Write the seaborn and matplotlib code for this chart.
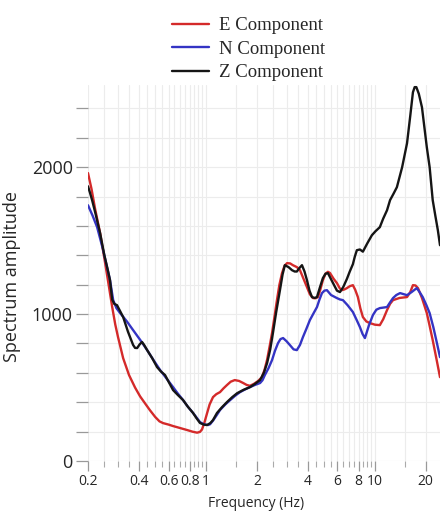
import numpy as np
import pandas as pd
import matplotlib
matplotlib.use("Agg")
import matplotlib.pyplot as plt
from matplotlib.ticker import FixedLocator, FixedFormatter, NullFormatter
import seaborn as sns

# Spectrum amplitudes of the three components against frequency (Hz)
e_freq = [0.200, 0.21, 0.22, 0.236, 0.25, 0.265, 0.278, 0.29, 0.301, 0.323,
          0.35, 0.38, 0.407, 0.44, 0.466, 0.5, 0.53, 0.557, 0.6, 0.638,
          0.7, 0.772, 0.83, 0.885, 0.92, 0.947, 0.98, 1.014, 1.05, 1.10,
          1.15, 1.21, 1.27, 1.33, 1.40, 1.48, 1.57, 1.66, 1.74, 1.82,
          1.92, 2.03, 2.14, 2.22, 2.30, 2.38, 2.46, 2.55, 2.63, 2.72,
          2.82, 2.92, 3.02, 3.15, 3.27, 3.45, 3.60, 3.78, 3.96, 4.12,
          4.30, 4.45, 4.60, 4.76, 4.92, 5.1, 5.27, 5.42, 5.7, 5.96,
          6.2, 6.38, 6.6, 6.83, 7.1, 7.41, 7.65, 7.93, 8.2, 8.49,
          8.9, 9.34, 10.0, 10.7, 11.2, 11.8, 12.3, 12.8, 14.0, 15.5,
          16.2, 16.8, 17.4, 18.0, 19.0, 20.3, 21.1, 22.0, 23.2, 24.3]
e_amp = [1960, 1850, 1720, 1550, 1380, 1200, 1050, 930, 845, 700,
         585, 500, 440, 385, 345, 300, 270, 258, 248, 238,
         225, 211, 200, 193, 198, 215, 265, 325, 385, 435,
         455, 469, 495, 517, 540, 551, 545, 531, 518, 512,
         525, 544, 570, 620, 690, 780, 871, 990, 1095, 1200,
         1280, 1330, 1347, 1345, 1333, 1320, 1299, 1240, 1184, 1135,
         1109, 1108, 1116, 1170, 1231, 1275, 1288, 1280, 1240, 1211,
         1175, 1163, 1168, 1177, 1190, 1197, 1165, 1116, 1040, 980,
         950, 939, 928, 925, 965, 1027, 1070, 1095, 1110, 1116,
         1150, 1197, 1195, 1177, 1110, 1007, 920, 823, 690, 571]

n_freq = [0.200, 0.213, 0.2265, 0.246, 0.258, 0.270, 0.282, 0.295, 0.310, 0.34,
          0.370, 0.41, 0.448, 0.49, 0.535, 0.585, 0.638, 0.68, 0.731, 0.78,
          0.838, 0.88, 0.921, 0.97, 1.028, 1.056, 1.10, 1.161, 1.21, 1.30,
          1.39, 1.49, 1.59, 1.70, 1.82, 1.95, 2.09, 2.16, 2.23, 2.34,
          2.46, 2.56, 2.67, 2.76, 2.86, 3.0, 3.14, 3.3, 3.45, 3.6,
          3.75, 3.93, 4.12, 4.33, 4.54, 4.70, 4.86, 5.03, 5.20, 5.5,
          5.96, 6.2, 6.47, 6.9, 7.41, 7.8, 8.15, 8.45, 8.73, 9.2,
          9.73, 10.2, 10.7, 11.8, 12.3, 12.8, 13.4, 14.1, 15.5, 16.5,
          17.7, 18.4, 19.2, 20.2, 21.1, 22.2, 23.3, 24.3]
n_amp = [1741, 1670, 1592, 1435, 1330, 1231, 1095, 1040, 1007, 950,
         891, 820, 755, 685, 619, 560, 503, 460, 415, 370,
         327, 295, 265, 250, 245, 250, 275, 315, 347, 385,
         415, 445, 469, 487, 503, 518, 531, 550, 585, 630,
         687, 750, 803, 830, 837, 815, 789, 760, 755, 790,
         844, 900, 959, 1005, 1048, 1100, 1143, 1160, 1163, 1130,
         1109, 1100, 1095, 1060, 1014, 960, 912, 865, 837, 920,
         993, 1030, 1041, 1048, 1080, 1109, 1130, 1143, 1129, 1150,
         1177, 1150, 1116, 1060, 1007, 910, 803, 707]

z_freq = [0.200, 0.205, 0.2115, 0.222, 0.236, 0.25, 0.262, 0.270, 0.278, 0.286,
          0.297, 0.31, 0.323, 0.345, 0.370, 0.38, 0.391, 0.405, 0.418, 0.43,
          0.448, 0.48, 0.513, 0.54, 0.572, 0.60, 0.638, 0.68, 0.731, 0.78,
          0.838, 0.88, 0.921, 0.97, 1.014, 1.06, 1.10, 1.161, 1.24, 1.33,
          1.43, 1.53, 1.67, 1.82, 1.95, 2.09, 2.2, 2.30, 2.40, 2.49,
          2.6, 2.74, 2.84, 2.93, 3.08, 3.23, 3.35, 3.45, 3.58, 3.70,
          3.83, 3.96, 4.1, 4.24, 4.4, 4.54, 4.72, 4.92, 5.1, 5.27,
          5.6, 5.96, 6.21, 6.5, 6.83, 7.1, 7.41, 7.6, 7.82, 8.15,
          8.49, 9.0, 9.60, 10.1, 10.7, 11.2, 11.8, 12.3, 12.9, 13.5,
          14.5, 15.5, 16.2, 16.8, 17.2, 17.6, 18.2, 19.0, 20.3, 21.1,
          22.0, 22.8, 23.6, 24.3]
z_amp = [1870, 1830, 1776, 1680, 1550, 1400, 1300, 1231, 1100, 1070,
         1061, 1020, 980, 880, 790, 770, 769, 795, 810, 790,
         755, 700, 639, 610, 585, 540, 483, 450, 415, 370,
         327, 290, 259, 248, 245, 258, 279, 327, 365, 401,
         435, 462, 485, 503, 525, 551, 600, 667, 760, 871,
         1010, 1163, 1270, 1333, 1320, 1299, 1290, 1290, 1315, 1333,
         1290, 1231, 1160, 1116, 1110, 1116, 1180, 1245, 1275, 1279,
         1220, 1160, 1150, 1185, 1240, 1290, 1340, 1390, 1435, 1440,
         1425, 1480, 1537, 1565, 1592, 1650, 1707, 1776, 1820, 1864,
         2000, 2163, 2350, 2510, 2545, 2545, 2500, 2408, 2136, 2000,
         1776, 1670, 1571, 1469]

labels = ["E Component", "N Component", "Z Component"]
colors = ["#d42a2a", "#3434c4", "#151515"]

x_major = [0.2, 0.4, 0.6, 0.8, 1, 2, 4, 6, 8, 10, 20]
x_major_labels = ["0.2", "0.4", "0.6", "0.8", "1", "2", "4", "6", "8", "10", "20"]
x_minor = [0.25, 0.3, 0.35, 0.45, 0.5, 0.55, 0.65, 0.7, 0.75, 0.85, 0.9, 0.95,
           1.5, 2.5, 3, 3.5, 4.5, 5, 5.5, 6.5, 7, 7.5, 8.5, 9, 9.5, 15]

df = pd.concat([
    pd.DataFrame({"freq": e_freq, "amp": e_amp, "comp": labels[0]}),
    pd.DataFrame({"freq": n_freq, "amp": n_amp, "comp": labels[1]}),
    pd.DataFrame({"freq": z_freq, "amp": z_amp, "comp": labels[2]}),
], ignore_index=True)

sns.set_theme(style="white")
plt.rcParams["font.family"] = ["Open Sans", "DejaVu Sans"]

fig = plt.figure(figsize=(4.40, 5.11), dpi=100)
ax = fig.add_axes([0.2, 0.0978, 0.8, 0.736])

sns.lineplot(data=df, x="freq", y="amp", hue="comp", hue_order=labels,
             palette=colors, linewidth=1.7, sort=False, ax=ax, legend=True)
for line in ax.get_lines():
    line.set_solid_joinstyle("round")

ax.set_xscale("log")
ax.set_xlim(0.2, 24.3)
ax.set_ylim(0, 2560)

ax.xaxis.set_major_locator(FixedLocator(x_major))
ax.xaxis.set_major_formatter(FixedFormatter(x_major_labels))
ax.xaxis.set_minor_locator(FixedLocator(x_minor))
ax.xaxis.set_minor_formatter(NullFormatter())

yt = list(range(0, 2600, 200))
ax.set_yticks(yt)
ax.set_yticklabels([str(v) if v % 1000 == 0 else "" for v in yt])

ax.grid(True, which="both", axis="x", color="#ececec", linewidth=0.8)
ax.grid(True, which="major", axis="y", color="#ececec", linewidth=0.8)
ax.set_axisbelow(True)
for s in ax.spines.values():
    s.set_visible(False)

ax.tick_params(axis="x", which="major", direction="out", length=7, width=0.9,
               color="#999999", labelsize=10, pad=2, bottom=True)
ax.tick_params(axis="x", which="minor", direction="out", length=4, width=0.8,
               color="#aaaaaa", bottom=True)
ax.tick_params(axis="y", which="major", direction="out", length=9, width=0.9,
               color="#999999", labelsize=13, pad=2, left=True)

ax.set_xlabel("Frequency (Hz)", fontsize=10)
ax.set_ylabel("Spectrum amplitude", fontsize=13)
ax.xaxis.set_label_coords((256 - 88) / 352, -0.092)
ax.yaxis.set_label_coords(-0.19, 0.49)

handles, lbls = ax.get_legend_handles_labels()
ax.legend(handles, lbls, loc="upper left", bbox_to_anchor=(172 / 440, 0.966),
          bbox_transform=fig.transFigure, frameon=False, borderpad=0,
          borderaxespad=0, handlelength=1.95, handletextpad=0.55,
          labelspacing=0.34, prop={"family": "Liberation Serif", "size": 13.5})

fig.savefig("out.png", dpi=100)
